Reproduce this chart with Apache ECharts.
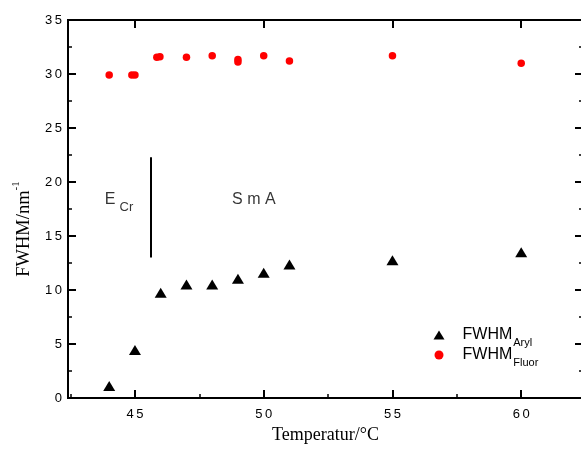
<!DOCTYPE html>
<html>
<head>
<meta charset="utf-8">
<script src="https://cdn.jsdelivr.net/npm/echarts@6/dist/echarts.min.js"></script>
<style>
  html, body { margin: 0; padding: 0; background: #fff; }
  #chart { width: 581px; height: 453px; }
</style>
</head>
<body>
<div id="chart"></div>
<script>
// FWHM of the aryl band (triangles) versus temperature
const tempAryl = [44, 45, 46, 47, 48, 49, 50, 51, 55, 60];
const fwhmAryl = [1.1, 4.45, 9.75, 10.5, 10.5, 11.05, 11.6, 12.35, 12.75, 13.5];

// FWHM of the fluorene band (circles) versus temperature
const tempFluor = [44, 44.88, 45, 45.85, 45.97, 47, 48, 49, 49, 50, 51, 55, 60];
const fwhmFluor = [29.9, 29.9, 29.9, 31.55, 31.6, 31.55, 31.7, 31.35, 31.1, 31.7, 31.2, 31.7, 31.0];

// Axis ranges and tick steps
const xRange = [42.4, 62.4];
const xStep = 5;
const yRange = [0, 35];
const yStep = 5;

// Phase transition marker and phase names
const boundaryTemp = 45.6;
const boundarySpan = [13, 22.3];
const phaseNames = [
  { main: 'E', sub: 'Cr', t: 43.83, v: 18.4 },
  { main: 'S m A', sub: '', t: 48.77, v: 18.4 }
];

// Legend entries: series name -> subscript text
const legendSubs = ['Aryl', 'Fluor'];

const SANS = 'Liberation Sans';
const SERIF = 'Liberation Serif';

const spaced = v => String(v).split('').join('\u2009');

const chart = echarts.init(document.getElementById('chart'), null, { renderer: 'canvas' });

const axisLine = () => ({ show: true, onZero: false, lineStyle: { color: '#000', width: 2, opacity: 1 } });
const majorTick = () => ({ show: true, inside: true, length: 8, lineStyle: { color: '#000', width: 2 } });
const minorTick = () => ({ show: true, splitNumber: 2, length: 4, lineStyle: { color: '#000', width: 1.5 } });

chart.setOption({
  animation: false,
  backgroundColor: '#fff',
  grid: {
    left: 68, top: 20, width: 515, height: 378,
    outerBoundsMode: 'none', containLabel: false,
    show: true, borderColor: '#000', borderWidth: 2, backgroundColor: 'transparent'
  },
  xAxis: [
    {
      type: 'value', position: 'bottom', min: xRange[0], max: xRange[1],
      minInterval: xStep, maxInterval: xStep,
      axisLine: axisLine(), axisTick: majorTick(), minorTick: minorTick(),
      splitLine: { show: false }, minorSplitLine: { show: false },
      axisLabel: {
        showMinLabel: false, showMaxLabel: false, margin: 10,
        fontFamily: SANS, fontSize: 13, color: '#000',
        formatter: v => (v % xStep === 0 ? spaced(v) : '')
      },
      name: 'Temperatur/°C', nameLocation: 'middle', nameGap: 28,
      nameTextStyle: { fontFamily: SERIF, fontSize: 18, color: '#000' }
    },
    {
      type: 'value', position: 'top', min: xRange[0], max: xRange[1],
      minInterval: xStep, maxInterval: xStep,
      axisLine: axisLine(), axisTick: majorTick(), minorTick: { show: false },
      splitLine: { show: false }, axisLabel: { show: false }
    }
  ],
  yAxis: [
    {
      type: 'value', position: 'left', min: yRange[0], max: yRange[1], interval: yStep,
      axisLine: axisLine(), axisTick: majorTick(), minorTick: minorTick(),
      splitLine: { show: false }, minorSplitLine: { show: false },
      axisLabel: { margin: 6, fontFamily: SANS, fontSize: 13, color: '#000', formatter: v => spaced(v) }
    },
    {
      type: 'value', position: 'right', min: yRange[0], max: yRange[1], interval: yStep,
      axisLine: axisLine(), axisTick: majorTick(), minorTick: minorTick(),
      splitLine: { show: false }, axisLabel: { show: false }
    }
  ],
  legend: {
    orient: 'vertical', left: 433.5, top: 322, padding: 0,
    itemWidth: 11, itemHeight: 9, itemGap: -6,
    data: legendSubs, selectedMode: false,
    formatter: n => `{a|FWHM}{b|${n}}`,
    textStyle: {
      rich: {
        a: { fontFamily: SANS, fontSize: 16, color: '#000', lineHeight: 20, padding: [0, 0, 0, 13] },
        b: { fontFamily: SANS, fontSize: 11, color: '#000', lineHeight: 11, padding: [15, 0, 0, 1] }
      }
    }
  },
  graphic: [
    {
      type: 'text', x: 24, y: 229, rotation: Math.PI / 2,
      style: {
        text: '{a|FWHM/nm}{s|-1}', align: 'center', verticalAlign: 'middle',
        rich: {
          a: { fontFamily: SERIF, fontSize: 18.5, fill: '#000', lineHeight: 22 },
          s: { fontFamily: SERIF, fontSize: 11, fill: '#000', lineHeight: 11, padding: [0, 0, 16, 0] }
        }
      }
    }
  ],
  series: [
    {
      type: 'scatter', name: 'Aryl', symbol: 'triangle', symbolSize: [12, 10],
      itemStyle: { color: '#000', opacity: 1 },
      data: tempAryl.map((t, i) => [t, fwhmAryl[i]]),
      markLine: {
        silent: true, symbol: ['none', 'none'], label: { show: false },
        lineStyle: { color: '#000', width: 2, type: 'solid', opacity: 1 },
        emphasis: { disabled: true },
        data: [[{ coord: [boundaryTemp, boundarySpan[0]] }, { coord: [boundaryTemp, boundarySpan[1]] }]]
      }
    },
    {
      type: 'scatter', name: 'Fluor', symbol: 'circle', symbolSize: 7.5,
      itemStyle: { color: '#ff0000', opacity: 1 },
      data: tempFluor.map((t, i) => [t, fwhmFluor[i]])
    },
    {
      type: 'scatter', name: 'phases', symbolSize: 0, silent: true,
      data: phaseNames.map(p => ({ value: [p.t, p.v], main: p.main, sub: p.sub })),
      label: {
        show: true, position: [0, 0], align: 'left', verticalAlign: 'middle',
        formatter: p => p.data.sub ? `{m|${p.data.main}}{s|${p.data.sub}}` : `{m|${p.data.main}}`,
        rich: {
          m: { fontFamily: SANS, fontSize: 16, color: '#000', lineHeight: 20 },
          s: { fontFamily: SANS, fontSize: 13, color: '#000', lineHeight: 13, padding: [16, 0, 0, 4] }
        }
      }
    }
  ]
});
</script>
</body>
</html>
